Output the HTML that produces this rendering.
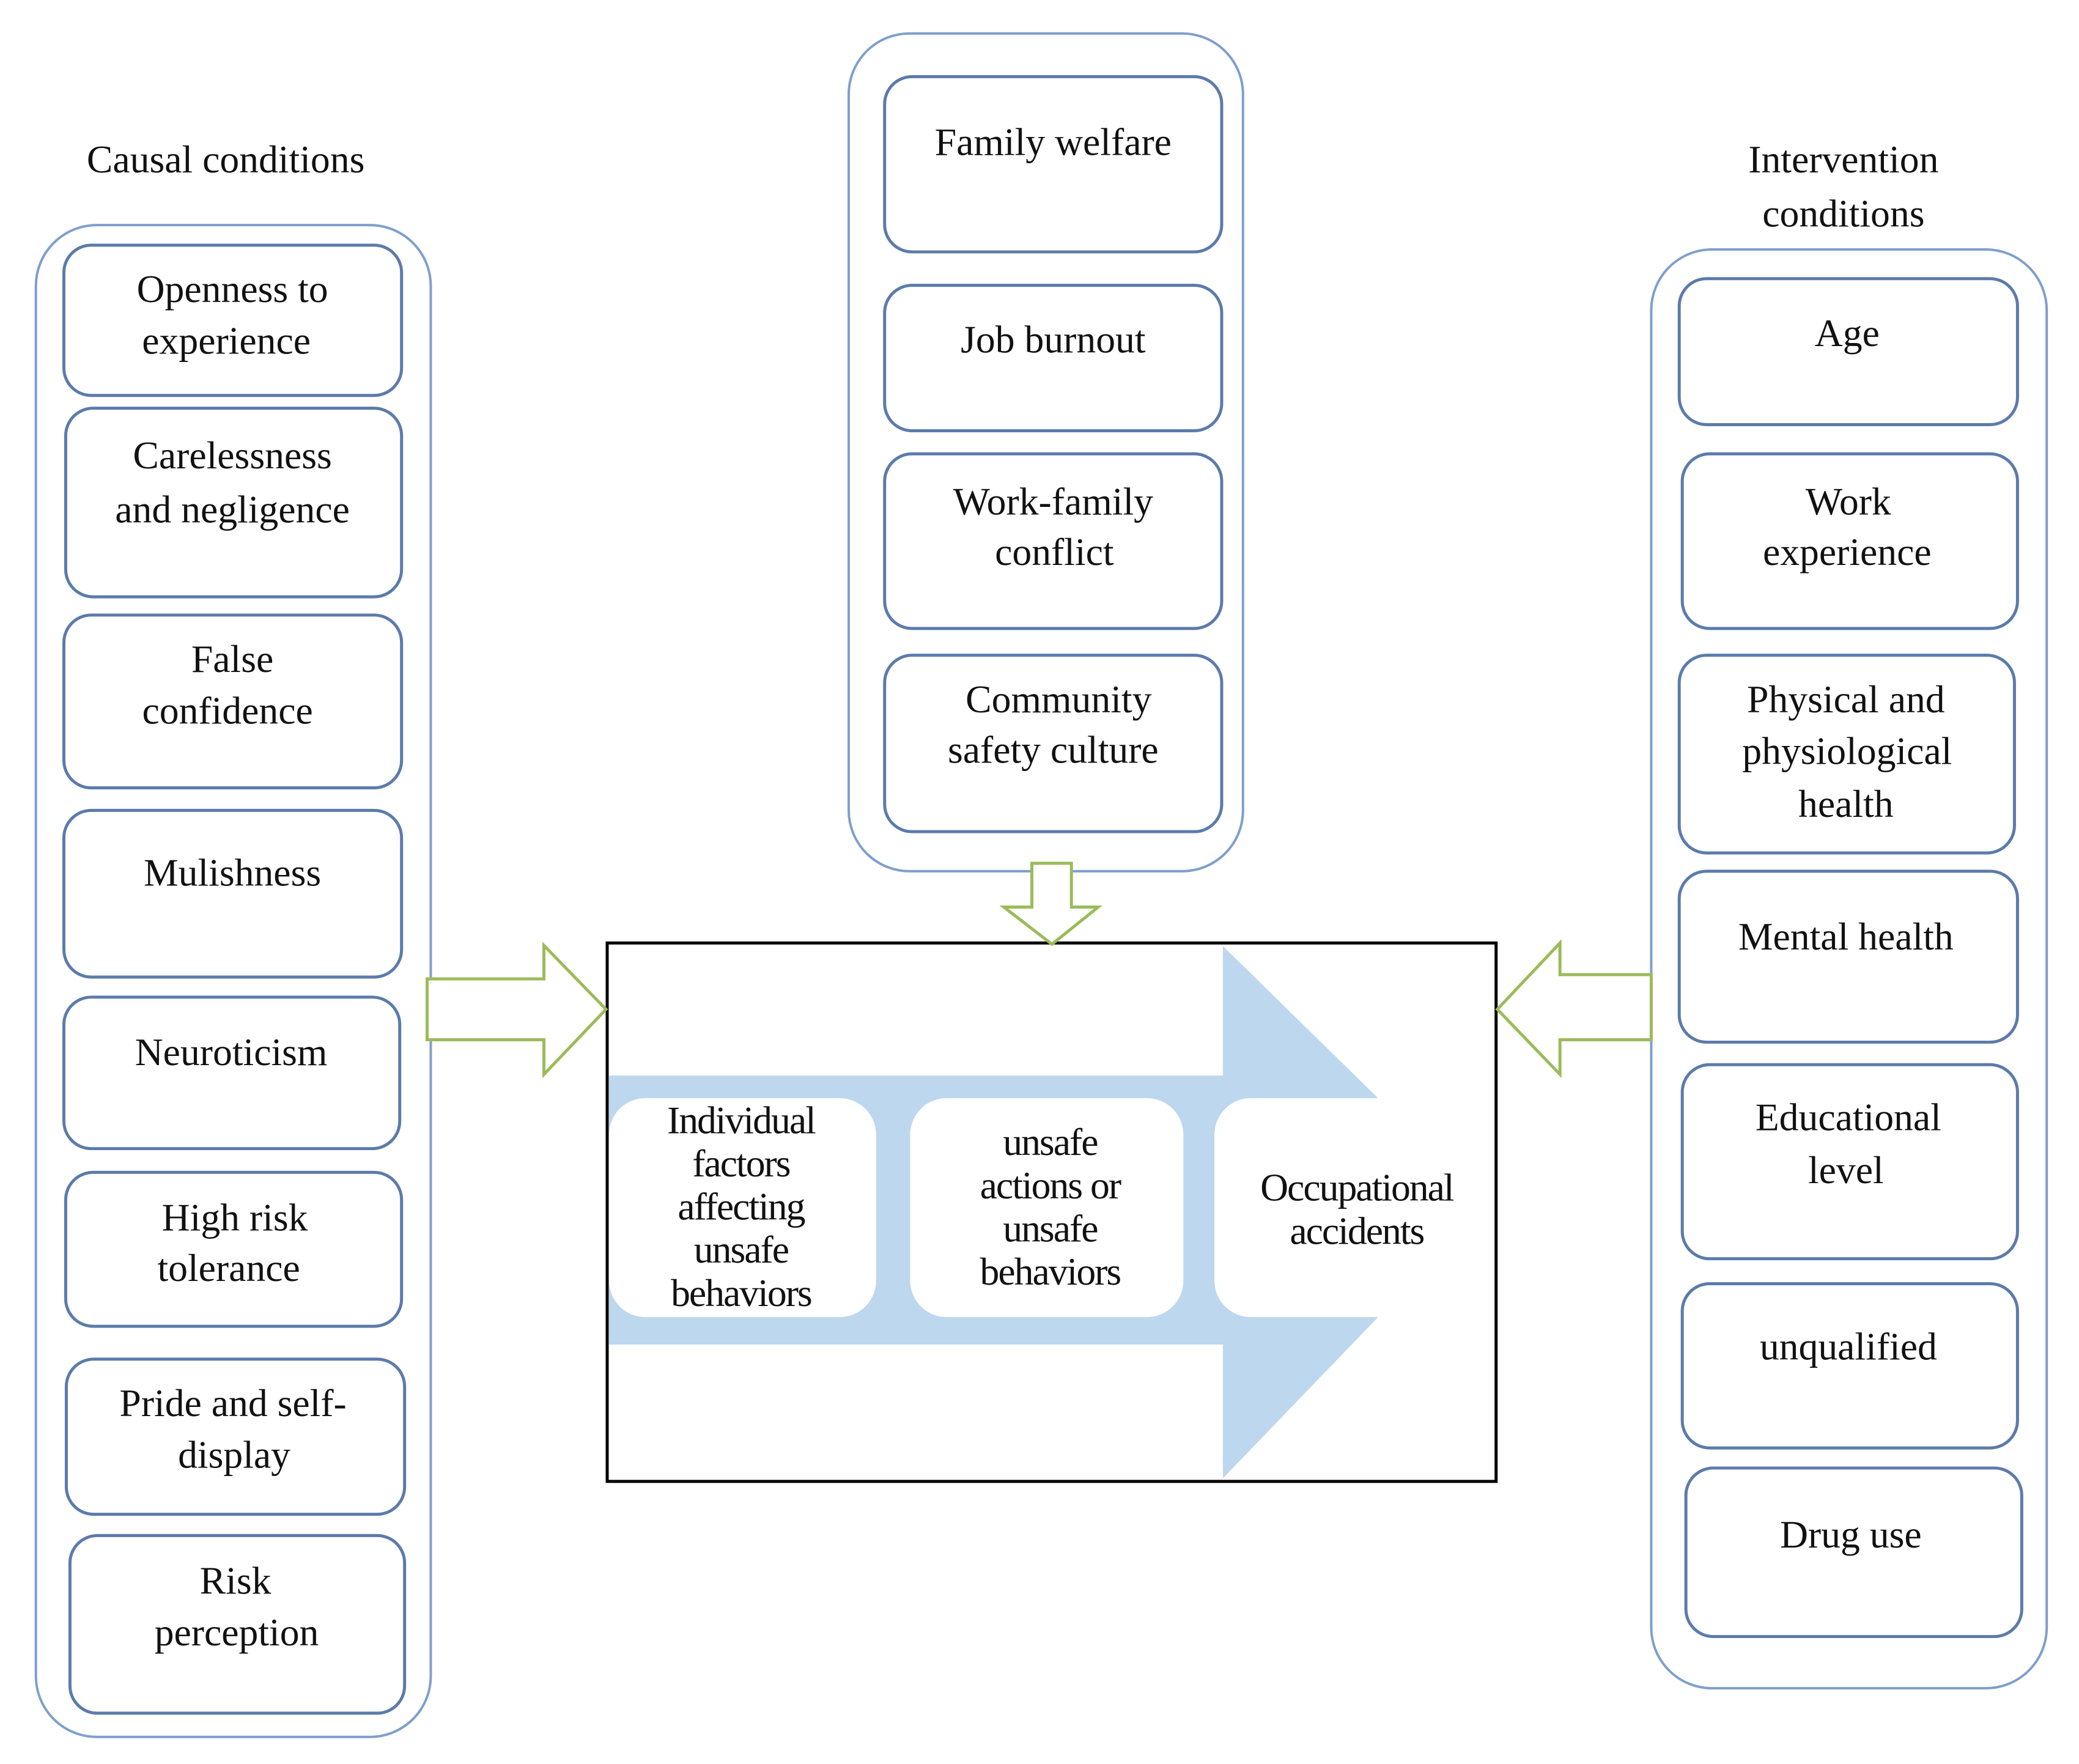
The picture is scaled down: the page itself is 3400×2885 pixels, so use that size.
<!DOCTYPE html>
<html><head><meta charset="utf-8"><style>
html,body{margin:0;padding:0;background:#fff;}
svg{display:block}
text{font-family:"Liberation Serif",serif;font-size:64px;fill:#111;text-anchor:middle;dominant-baseline:central;}
</style></head><body>
<svg width="3400" height="2885" viewBox="0 0 3400 2885" xmlns="http://www.w3.org/2000/svg">
<g transform="scale(0.995)">
<!-- outer containers -->
<g fill="none" stroke="#7f9fcb" stroke-width="4">
<rect x="59" y="370" width="649" height="2485" rx="100"/>
<rect x="1395" y="55" width="648" height="1377" rx="100"/>
<rect x="2714" y="410" width="650" height="2365" rx="100"/>
</g>
<!-- inner boxes -->
<g fill="#fff" stroke="#5b7bab" stroke-width="5">
<rect x="105" y="403" width="555" height="247" rx="45"/>
<rect x="108" y="671" width="552" height="310" rx="45"/>
<rect x="105" y="1011" width="555" height="284" rx="45"/>
<rect x="105" y="1332" width="555" height="274" rx="45"/>
<rect x="105" y="1639" width="552" height="249" rx="45"/>
<rect x="108" y="1927" width="552" height="253" rx="45"/>
<rect x="109" y="2234" width="556" height="255" rx="45"/>
<rect x="115" y="2524" width="550" height="292" rx="45"/>

<rect x="1454" y="126" width="554" height="288" rx="45"/>
<rect x="1454" y="469" width="554" height="239" rx="45"/>
<rect x="1454" y="746" width="554" height="287" rx="45"/>
<rect x="1454" y="1077" width="554" height="290" rx="45"/>

<rect x="2760" y="458" width="556" height="240" rx="45"/>
<rect x="2765" y="746" width="551" height="287" rx="45"/>
<rect x="2760" y="1077" width="551" height="325" rx="45"/>
<rect x="2760" y="1432" width="556" height="281" rx="45"/>
<rect x="2765" y="1750" width="551" height="319" rx="45"/>
<rect x="2765" y="2110" width="551" height="270" rx="45"/>
<rect x="2771" y="2413" width="552" height="277" rx="45"/>
</g>
<!-- central box -->
<rect x="998" y="1550" width="1461" height="885" fill="#fff" stroke="#000" stroke-width="5"/>
<polygon points="1001,1768 2010,1768 2010,1555 2265,1805 2265,2165 2010,2430 2010,2210 1001,2210" fill="#bdd7ee"/>
<g fill="#fff">
<rect x="1001" y="1805" width="439" height="360" rx="60"/>
<rect x="1496" y="1805" width="449" height="360" rx="60"/>
<rect x="1996" y="1805" width="450" height="360" rx="60"/>
</g>
<!-- green arrows -->
<g fill="#fff" stroke="#9bbb59" stroke-width="5" stroke-linejoin="miter">
<polygon points="702,1609 894,1609 894,1554 996,1659 894,1766 894,1709 702,1709"/>
<polygon points="2714,1602 2564,1602 2564,1550 2461,1659 2564,1766 2564,1709 2714,1709"/>
<polygon points="1696,1419 1761,1419 1761,1491 1805,1491 1729,1552 1650,1491 1696,1491"/>
</g>
<!-- titles -->
<text x="371" y="262">Causal conditions</text>
<text x="3030" y="262">Intervention</text>
<text x="3030" y="351">conditions</text>
<!-- left texts -->
<text x="382" y="475">Openness to</text><text x="372" y="560">experience</text>
<text x="382" y="748">Carelessness</text><text x="382" y="837">and negligence</text>
<text x="382" y="1083">False</text><text x="374" y="1168">confidence</text>
<text x="382" y="1434">Mulishness</text>
<text x="380" y="1729">Neuroticism</text>
<text x="386" y="2001">High risk</text><text x="376" y="2084">tolerance</text>
<text x="383" y="2306">Pride and self-</text><text x="385" y="2391">display</text>
<text x="387" y="2598">Risk</text><text x="389" y="2683">perception</text>
<!-- center texts -->
<text x="1731" y="233">Family welfare</text>
<text x="1731" y="558">Job burnout</text>
<text x="1731" y="824">Work-family</text><text x="1733" y="907">conflict</text>
<text x="1740" y="1149">Community</text><text x="1731" y="1232">safety culture</text>
<!-- right texts -->
<text x="3036" y="547">Age</text>
<text x="3038" y="824">Work</text><text x="3036" y="907">experience</text>
<text x="3034" y="1149">Physical and</text><text x="3036" y="1234">physiological</text><text x="3034" y="1321">health</text>
<text x="3034" y="1539">Mental health</text>
<text x="3038" y="1836">Educational</text><text x="3034" y="1923">level</text>
<text x="3038" y="2213">unqualified</text>
<text x="3042" y="2522">Drug use</text>
<!-- inner process texts -->
<g style="font-size:62px" letter-spacing="-2">
<text x="1218" y="1841">Individual</text>
<text x="1218" y="1912">factors</text>
<text x="1218" y="1983">affecting</text>
<text x="1218" y="2054">unsafe</text>
<text x="1218" y="2125">behaviors</text>
<text x="1726" y="1877">unsafe</text>
<text x="1726" y="1948">actions or</text>
<text x="1726" y="2019">unsafe</text>
<text x="1726" y="2090">behaviors</text>
<text x="2230" y="1952">Occupational</text>
<text x="2230" y="2023">accidents</text>
</g>
</g>
</svg>
</body></html>
